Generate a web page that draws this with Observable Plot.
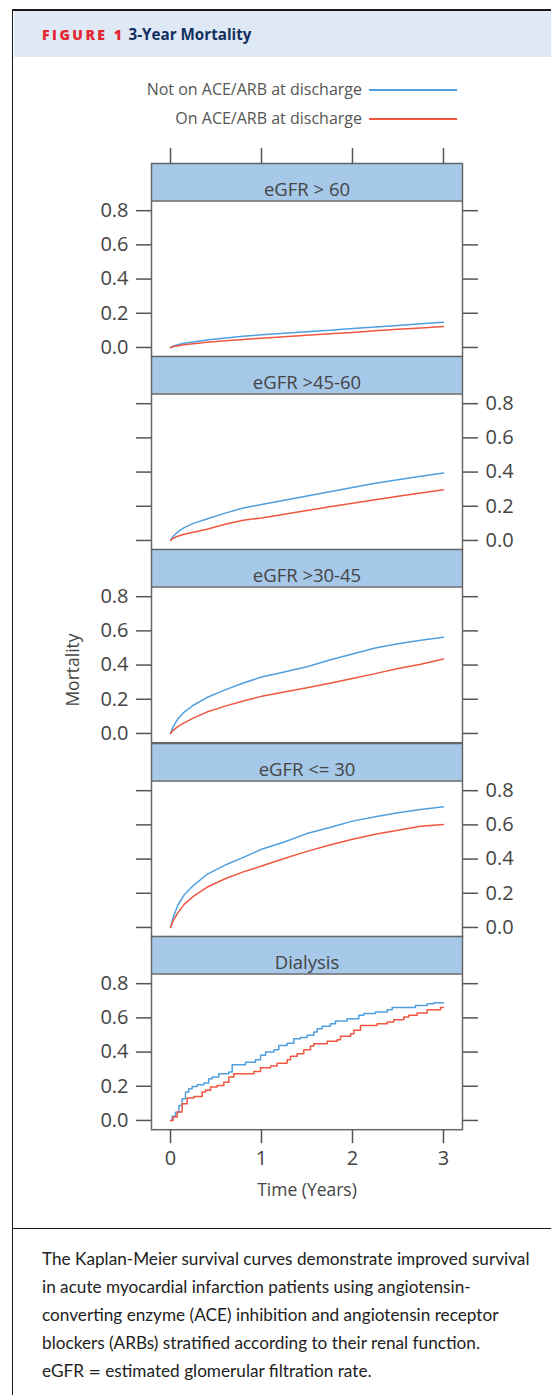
<!DOCTYPE html>
<html>
<head>
<meta charset="utf-8">
<script src="https://cdn.jsdelivr.net/npm/d3@7"></script>
<script src="https://cdn.jsdelivr.net/npm/@observablehq/plot@0.6"></script>
<style>
  html, body { margin: 0; padding: 0; background: #fff; }
  #fig { position: relative; width: 551px; height: 1395px; overflow: hidden; font-family: "Open Sans", sans-serif; }
  #frame { position: absolute; left: 12px; top: 8.5px; width: 700px; height: 1500px; border-left: 1.5px solid #1a1a1a; border-top: 2px solid #1a1a1a; }
  #head { position: absolute; left: 13.5px; top: 10.5px; width: 540px; height: 46.5px; background: #dee9f5; }
  #head .fig { position: absolute; left: 28.5px; top: 14px; font-family: "Open Sans"; font-weight: 800; font-size: 14px; letter-spacing: 2.5px; color: #e3262f; }
  #head .ttl { position: absolute; left: 115px; top: 13px; font-family: "Open Sans"; font-weight: 700; font-size: 15.2px; color: #12305f; }
  .leg { position: absolute; left: 0; width: 362px; text-align: right; font-size: 16px; color: #555; line-height: 20px; white-space: nowrap; }
  .legline { position: absolute; left: 369px; width: 88px; height: 1.5px; }
  .panel { position: absolute; left: 0; }
  #ylab { position: absolute; left: 72px; top: 670px; transform: translate(-50%, -50%) rotate(-90deg); font-size: 17.5px; color: #444; white-space: nowrap; }
  #sep { position: absolute; left: 12px; top: 1227.5px; width: 560px; height: 1.5px; background: #1a1a1a; }
  #caption { position: absolute; left: 42px; top: 1245px; font-family: "Lato"; font-size: 16.3px; line-height: 28px; color: #222; white-space: nowrap; }
</style>
</head>
<body>
<div id="fig">
  <div id="frame"></div>
  <div id="head"><span class="fig">FIGURE 1</span><span class="ttl">3-Year Mortality</span></div>
  <div id="legend"></div>
  <div id="plots"></div>
  <div id="ylab">Mortality</div>
  <div id="sep"></div>
  <div id="caption"></div>
</div>
<script>
// ---------- data ----------
const panelNames = ["eGFR > 60", "eGFR >45-60", "eGFR >30-45", "eGFR <= 30", "Dialysis"];
const groups = ["Not on ACE/ARB at discharge", "On ACE/ARB at discharge"];
const groupColors = ["#4f9fdf", "#ef5740"];
const xTicks = [0, 1, 2, 3];
const yTicks = [0, 0.2, 0.4, 0.6, 0.8];

// smooth curves share these time points (years)
const times = [0, 0.03, 0.08, 0.15, 0.25, 0.4, 0.6, 0.8, 1, 1.25, 1.5, 1.75, 2, 2.25, 2.5, 2.75, 3];

const gt60Not    = [0, 0.008, 0.016, 0.024, 0.032, 0.043, 0.055, 0.065, 0.074, 0.083, 0.092, 0.101, 0.111, 0.120, 0.129, 0.139, 0.148];
const gt60On     = [0, 0.005, 0.010, 0.016, 0.022, 0.030, 0.039, 0.047, 0.054, 0.063, 0.071, 0.080, 0.088, 0.097, 0.106, 0.114, 0.123];
const g45to60Not = [0, 0.025, 0.050, 0.075, 0.100, 0.125, 0.160, 0.190, 0.210, 0.235, 0.260, 0.285, 0.310, 0.335, 0.355, 0.375, 0.395];
const g45to60On  = [0, 0.013, 0.025, 0.036, 0.048, 0.066, 0.095, 0.118, 0.132, 0.153, 0.175, 0.197, 0.218, 0.238, 0.258, 0.278, 0.297];
const g30to45Not = [0, 0.040, 0.085, 0.125, 0.165, 0.210, 0.255, 0.295, 0.330, 0.360, 0.390, 0.430, 0.465, 0.500, 0.525, 0.545, 0.563];
const g30to45On  = [0, 0.020, 0.040, 0.062, 0.090, 0.125, 0.160, 0.190, 0.217, 0.243, 0.268, 0.294, 0.321, 0.350, 0.380, 0.405, 0.435];
const le30Not    = [0, 0.060, 0.130, 0.190, 0.245, 0.310, 0.365, 0.410, 0.457, 0.500, 0.549, 0.585, 0.622, 0.648, 0.671, 0.690, 0.706];
const le30On     = [0, 0.040, 0.085, 0.135, 0.182, 0.235, 0.285, 0.325, 0.359, 0.403, 0.445, 0.482, 0.516, 0.545, 0.569, 0.592, 0.602];

// dialysis: Kaplan-Meier steps
const dialNotT = [0, 0.018, 0.055, 0.092, 0.128, 0.165, 0.2, 0.238, 0.293, 0.366, 0.42, 0.458, 0.531, 0.641, 0.678, 0.824, 0.934, 0.989, 1.044, 1.136, 1.19, 1.282, 1.355, 1.429, 1.5, 1.575, 1.612, 1.667, 1.758, 1.813, 1.941, 2.07, 2.125, 2.253, 2.381, 2.436, 2.692, 2.82, 2.894, 3.0];
const dialNotM = [0, 0.025, 0.048, 0.088, 0.127, 0.166, 0.186, 0.199, 0.209, 0.219, 0.244, 0.254, 0.273, 0.283, 0.326, 0.341, 0.355, 0.381, 0.400, 0.414, 0.439, 0.452, 0.478, 0.485, 0.498, 0.517, 0.537, 0.551, 0.566, 0.582, 0.595, 0.615, 0.625, 0.634, 0.648, 0.660, 0.673, 0.683, 0.689, 0.689];
const dialOnT  = [0, 0.029, 0.073, 0.128, 0.183, 0.256, 0.348, 0.385, 0.44, 0.513, 0.586, 0.641, 0.696, 0.916, 0.989, 1.099, 1.172, 1.282, 1.319, 1.392, 1.465, 1.538, 1.575, 1.722, 1.832, 1.868, 1.978, 2.015, 2.088, 2.271, 2.381, 2.454, 2.564, 2.619, 2.711, 2.82, 2.967, 3.0];
const dialOnM  = [0, 0.020, 0.049, 0.098, 0.131, 0.140, 0.166, 0.176, 0.195, 0.205, 0.224, 0.254, 0.273, 0.287, 0.308, 0.318, 0.335, 0.355, 0.375, 0.390, 0.414, 0.436, 0.449, 0.464, 0.472, 0.492, 0.507, 0.527, 0.556, 0.566, 0.576, 0.589, 0.605, 0.615, 0.628, 0.648, 0.660, 0.660];

const captionLines = [
  "The Kaplan-Meier survival curves demonstrate improved survival",
  "in acute myocardial infarction patients using angiotensin-",
  "converting enzyme (ACE) inhibition and angiotensin receptor",
  "blockers (ARBs) stratified according to their renal function.",
  "eGFR = estimated glomerular filtration rate."
];

// ---------- build ----------
const rows = (t, m, g) => t.map((d, i) => ({t: d, m: m[i], g}));
const panelData = [
  [...rows(times, gt60Not, groups[0]), ...rows(times, gt60On, groups[1])],
  [...rows(times, g45to60Not, groups[0]), ...rows(times, g45to60On, groups[1])],
  [...rows(times, g30to45Not, groups[0]), ...rows(times, g30to45On, groups[1])],
  [...rows(times, le30Not, groups[0]), ...rows(times, le30On, groups[1])],
  [...rows(dialNotT, dialNotM, groups[0]), ...rows(dialOnT, dialOnM, groups[1])]
];

// legend
const legend = document.getElementById("legend");
const legendY = [90, 119];
groups.forEach((g, i) => {
  const t = document.createElement("div");
  t.className = "leg"; t.textContent = g; t.style.top = (legendY[i] - 11) + "px";
  legend.appendChild(t);
  const l = document.createElement("div");
  l.className = "legline"; l.style.top = (legendY[i] - 0.75) + "px"; l.style.background = groupColors[i];
  legend.appendChild(l);
});

const xDomain = [-0.209, 3.209];
const yDomain = [-0.054, 1.076];
const stripBottom = 0.857;
const panelH = 193.2;
const firstTop = 163;
const fmt = d3.format(".1f");
const plots = document.getElementById("plots");

panelNames.forEach((name, i) => {
  const first = i === 0, last = i === panelNames.length - 1;
  const labelsLeft = i % 2 === 0;
  const mt = first ? 16 : 0;
  const mb = last ? 80 : 0;
  const marks = [
    Plot.rect([name], {x1: xDomain[0], x2: xDomain[1], y1: stripBottom, y2: yDomain[1], fill: "#a6c8e9"}),
    Plot.ruleY([stripBottom], {stroke: "#666", strokeWidth: 1.5}),
    Plot.text([name], {frameAnchor: "top", dy: 19.5, text: d => d, fontSize: 18.5, fill: "#444"}),
    Plot.line(panelData[i], {x: "t", y: "m", stroke: "g", strokeWidth: 1.5, curve: last ? "step-after" : "linear"}),
    Plot.frame({stroke: "#666", strokeWidth: 1.5}),
    Plot.axisY({anchor: "left", ticks: yTicks, tickSize: 15, tickPadding: 8, strokeWidth: 1.5, fontSize: 20, fill: "#444",
                tickFormat: labelsLeft ? fmt : () => "", label: null}),
    Plot.axisY({anchor: "right", ticks: yTicks, tickSize: 15, tickPadding: 8, strokeWidth: 1.5, fontSize: 20, fill: "#444",
                tickFormat: labelsLeft ? () => "" : fmt, label: null})
  ];
  if (first) marks.push(Plot.axisX({anchor: "top", ticks: xTicks, tickSize: 16, strokeWidth: 1.5, tickFormat: () => "", label: null}));
  if (last) {
    marks.push(Plot.axisX({anchor: "bottom", ticks: xTicks, tickSize: 14, tickPadding: 7, strokeWidth: 1.5, fontSize: 20, fill: "#444", tickFormat: d3.format("d"), label: null}));
    marks.push(Plot.text(["Time (Years)"], {frameAnchor: "bottom", dy: 66, text: d => d, fontSize: 17.5, fill: "#444"}));
  }
  const svg = Plot.plot({
    width: 551,
    height: panelH + mt + mb,
    marginLeft: 151,
    marginRight: 89,
    marginTop: mt,
    marginBottom: mb,
    x: {domain: xDomain, axis: (first || last) ? undefined : null},
    y: {domain: yDomain},
    color: {domain: groups, range: groupColors},
    style: {background: "transparent", overflow: "visible", color: "#555", fontFamily: "Open Sans", fontSize: "20px", maxWidth: "none"},
    marks
  });
  svg.classList.add("panel");
  svg.style.top = (firstTop + i * panelH - mt) + "px";
  plots.appendChild(svg);
});

// caption: size the font so the first line spans the same width as in the original (~488px)
const cap = document.getElementById("caption");
const ctx = document.createElement("canvas").getContext("2d");
ctx.font = "16px Lato";
const w16 = ctx.measureText(captionLines[0]).width;
const capSize = Math.max(14, Math.min(18, 16 * 488 / w16));
cap.style.fontSize = capSize.toFixed(2) + "px";
cap.innerHTML = captionLines.map(s => s.replace("=", "<span style='font-family:DejaVu Sans;font-size:0.86em'>=</span>")).join("<br>");
</script>
</body>
</html>
